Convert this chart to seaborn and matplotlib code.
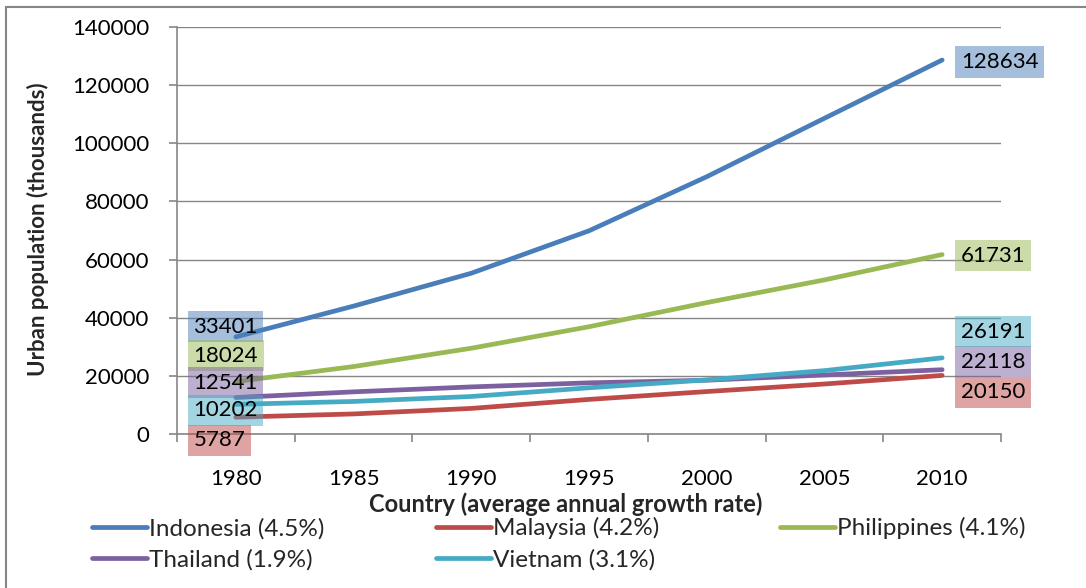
import matplotlib
matplotlib.use("Agg")
import matplotlib.pyplot as plt
from matplotlib.lines import Line2D
import seaborn as sns
import pandas as pd

# Urban population (thousands), 1980-2010
years = [1980, 1985, 1990, 1995, 2000, 2005, 2010]
indonesia = [33401, 44000, 55300, 69900, 88500, 108600, 128634]
malaysia = [5787, 6900, 8800, 11900, 14600, 17200, 20150]
philippines = [18024, 23200, 29500, 36900, 45200, 53000, 61731]
thailand = [12541, 14500, 16200, 17600, 18500, 20300, 22118]
vietnam = [10202, 11200, 12900, 15900, 18600, 21800, 26191]

series_names = ["Indonesia (4.5%)", "Malaysia (4.2%)", "Philippines (4.1%)",
                "Thailand (1.9%)", "Vietnam (3.1%)"]
series_values = [indonesia, malaysia, philippines, thailand, vietnam]
colors = ["#4A7EBB", "#BE4B48", "#98B954", "#7D60A0", "#46AAC5"]

# label offsets (points) for first / last value labels, per series
first_dy = [7.2, -16.6, 18.7, 10.8, -4.3]
last_dy = [-1.4, -12.2, -1.0, 5.8, 18.7]

rows = []
for name, vals in zip(series_names, series_values):
    for i, (yr, v) in enumerate(zip(years, vals)):
        rows.append({"series": name, "pos": i, "year": yr, "value": v})
df = pd.DataFrame(rows)

sns.set_theme(style="white")
plt.rcParams["font.family"] = ["Lato", "DejaVu Sans"]

W, H = 1086, 588
fig = plt.figure(figsize=(W / 100, H / 100), dpi=100)
ax = fig.add_axes([177 / W, 1 - 434 / H, (1001 - 177) / W, (434 - 27) / H])

palette = dict(zip(series_names, colors))
sns.lineplot(data=df, x="pos", y="value", hue="series", palette=palette,
             linewidth=3.4, legend=False, ax=ax, solid_capstyle="round",
             zorder=3)

# axes styling
ax.set_xlim(-0.5, len(years) - 0.5)
ax.set_ylim(0, 140000)
ax.set_yticks(range(0, 140001, 20000))
ax.set_yticklabels([str(v) for v in range(0, 140001, 20000)])
ax.set_xticks(range(len(years)))
ax.set_xticklabels([str(y) for y in years])
ax.set_xticks([i - 0.5 for i in range(len(years) + 1)], minor=True)
ax.tick_params(axis="x", which="major", length=0, pad=25, labelsize=16,
               colors="black")
ax.tick_params(axis="x", which="minor", length=6, width=1.2, color="#868686",
               direction="out", bottom=True)
ax.tick_params(axis="y", length=6, width=1.2, color="#868686",
               direction="out", left=True, pad=14, labelsize=16,
               labelcolor="black")
ax.yaxis.grid(True, color="#868686", linewidth=1.0)
ax.xaxis.grid(False)
for side in ["top", "right"]:
    ax.spines[side].set_visible(False)
for side in ["left", "bottom"]:
    ax.spines[side].set_color("#868686")
    ax.spines[side].set_linewidth(1.2)
ax.set_xlabel("")
ax.set_ylabel("")

# value labels at both ends of every series
last = len(years) - 1
for name, vals, c, d0, d1 in zip(series_names, series_values, colors,
                                 first_dy, last_dy):
    for pos, dx, dy in [(0, -30.5, d0), (last, 13.5, d1)]:
        ax.annotate(str(vals[pos]), xy=(pos, vals[pos]), xytext=(dx, dy),
                    textcoords="offset points", ha="left", va="center",
                    fontsize=16, color="black", zorder=5,
                    bbox=dict(boxstyle="square,pad=0.25",
                              facecolor=matplotlib.colors.to_rgba(c, 0.5),
                              edgecolor="none"),
                    annotation_clip=False)

# axis titles
fig.text(566 / W, 1 - 504 / H, "Country (average annual growth rate)",
         ha="center", va="center", fontsize=17, fontweight="bold")
fig.text(38 / W, 1 - 229 / H, "Urban population (thousands)",
         ha="center", va="center", rotation=90, fontsize=16,
         fontweight="bold")

# legend laid out in three columns
handles = {n: Line2D([0], [0], color=c, linewidth=3.4, solid_capstyle="round")
           for n, c in zip(series_names, colors)}
columns = [
    (92, ["Indonesia (4.5%)", "Thailand (1.9%)"], 544),
    (436, ["Malaysia (4.2%)", "Vietnam (3.1%)"], 544),
    (780, ["Philippines (4.1%)"], 528),
]
for x0, names, yc in columns:
    fig.legend([handles[n] for n in names], names,
               loc="center left", bbox_to_anchor=(x0 / W, 1 - yc / H),
               frameon=False, fontsize=17.5, handlelength=2.26,
               handletextpad=0.1, borderpad=0, borderaxespad=0,
               labelspacing=0.4)

# chart frame
fig.add_artist(Line2D([6 / W, 6 / W], [0, 1 - 7 / H], color="#868686",
                      linewidth=1.5, transform=fig.transFigure))
fig.add_artist(Line2D([6 / W, 1], [1 - 7 / H, 1 - 7 / H], color="#868686",
                      linewidth=1.5, transform=fig.transFigure))

fig.savefig("out.png", dpi=100)
